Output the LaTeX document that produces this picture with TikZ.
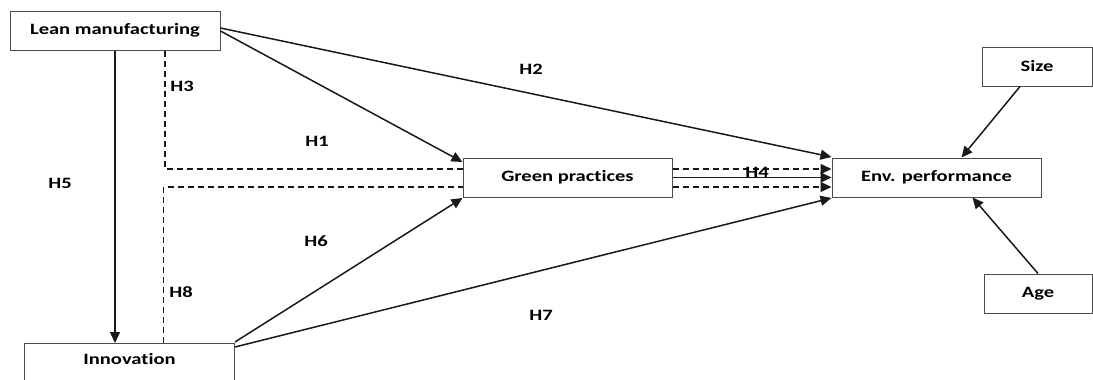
\documentclass[tikz,border=0pt]{standalone}
\usepackage{fontspec}
\setmainfont{Carlito}[FakeStretch=1.3, Ligatures=NoCommon]
\usetikzlibrary{arrows.meta}
\begin{document}
\begin{tikzpicture}[x=1pt,y=-1pt,
  every node/.style={font=\fontsize{15.8}{18}\selectfont\bfseries},
  box/.style={draw=black!70, line width=1pt, fill=white, inner sep=0pt,
    minimum width=210pt, minimum height=39pt},
  link/.style={line width=1.5pt, draw=black!90},
  arr/.style={link, -{Triangle[length=11pt,width=10pt]}},
  dline/.style={link, dash pattern=on 6pt off 4pt},
  darr/.style={dline, -{Triangle[length=11pt,width=10pt]}},
  hyp/.style={inner sep=0pt}]
\useasboundingbox (0,0) rectangle (1093,380);
\clip (0,0) rectangle (1093,380);

% constructs
\node[box] (lean) at (115,30.5) {Lean manufacturing};
\node[box, minimum width=209pt] (green) at (567.5,177.5) {Green practices};
\node[box, minimum width=209pt] (env) at (936.5,177.5) {Env. performance};
\node[box, minimum width=110pt] (size) at (1037,66.5) {Size};
\node[box, minimum width=108pt] (age) at (1038,293.5) {Age};
\node[box, anchor=north west, minimum height=0pt, text height=21pt, text depth=30pt]
  (inn) at (24,343) {Innovation};

% direct paths
\draw[arr] ([yshift=-0.5pt]lean.east) -- ([yshift=15.5pt]green.west);
\draw[arr] ([yshift=2.5pt]lean.east) -- ([yshift=20.5pt]env.west);
\draw[arr] (lean.south) -- (lean.south |- inn.north);
\draw[arr] ([yshift=1pt]inn.north east) -- ([yshift=-20.5pt]green.west);
\draw[arr] ([yshift=-4pt]inn.north east) -- ([yshift=-20.5pt]env.west);
\draw[arr] (green.east) -- (env.west);

% mediated paths
\draw[dline] ([xshift=50pt]lean.south) |- ([yshift=8.5pt]green.west);
\draw[dline] ([xshift=34pt]inn.north) |- ([yshift=-9.5pt]green.west);
\draw[darr] ([yshift=8.5pt]green.east) -- ([yshift=8.5pt]env.west);
\draw[darr] ([yshift=-9.5pt]green.east) -- ([yshift=-9.5pt]env.west);

% controls
\draw[arr] ([xshift=-17pt]size.south) -- ([xshift=25pt]env.north);
\draw[arr] (age.north) -- ([xshift=36pt]env.south);

% hypothesis labels
\node[hyp] (h1) at (317,141) {H1};
\node[hyp] (h2) at (531,69) {H2};
\node[hyp] (h3) at (182,86) {H3};
\node[hyp] (h4) at (757,172) {H4};
\node[hyp] (h5) at (60,183) {H5};
\node[hyp] (h6) at (316,241) {H6};
\node[hyp] (h7) at (541,315) {H7};
\node[hyp] (h8) at (181,292) {H8};
\end{tikzpicture}
\end{document}
